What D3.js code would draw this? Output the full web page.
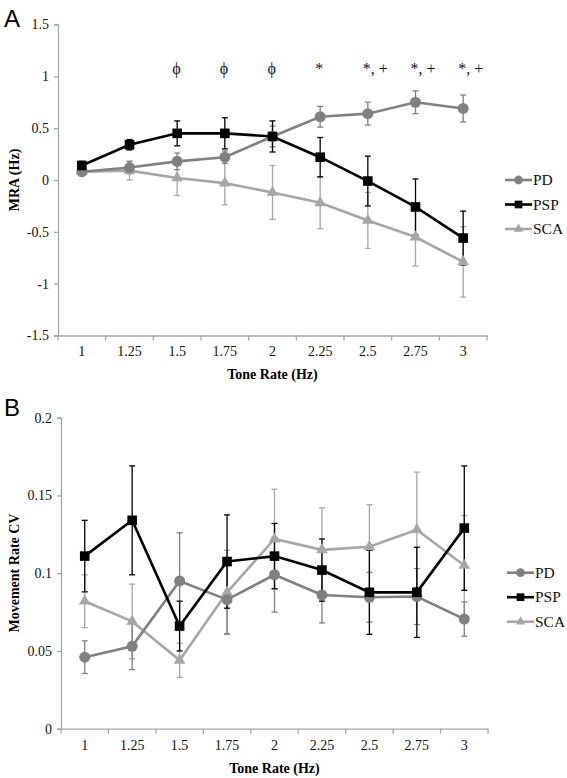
<!DOCTYPE html>
<html><head><meta charset="utf-8">
<script src="https://cdn.jsdelivr.net/npm/d3@7"></script>
<style>body{margin:0;background:#fff;} svg{display:block;} .serif{font-family:"Liberation Serif","DejaVu Serif",serif;} .sans{font-family:"Liberation Sans","DejaVu Sans",sans-serif;}</style>
</head><body>
<svg id="c" width="567" height="778"></svg>
<script>
const categories = ["1","1.25","1.5","1.75","2","2.25","2.5","2.75","3"];
const seriesNames = ["PD","PSP","SCA"];
// Panel A: MRA (Hz)
const mraPD  = [0.08, 0.12, 0.18, 0.22, 0.42, 0.61, 0.64, 0.75, 0.69];
const mraPSP = [0.14, 0.34, 0.45, 0.45, 0.42, 0.22, -0.01, -0.26, -0.56];
const mraSCA = [0.08, 0.09, 0.02, -0.03, -0.12, -0.22, -0.39, -0.55, -0.79];
const mraErrPD  = [0.03, 0.06, 0.08, 0.06, 0.10, 0.10, 0.11, 0.11, 0.13];
const mraErrPSP = [0.04, 0.05, 0.12, 0.15, 0.15, 0.19, 0.24, 0.27, 0.26];
const mraErrSCA = [0.04, 0.09, 0.17, 0.21, 0.26, 0.25, 0.27, 0.28, 0.34];
const sigLabels = ["", "", "ϕ", "ϕ", "ϕ", "*", "*, +", "*, +", "*, +"];
const mraTicks = [1.5, 1, 0.5, 0, -0.5, -1, -1.5];
// Panel B: Movement Rate CV
const cvPD  = [0.046, 0.053, 0.095, 0.083, 0.099, 0.086, 0.0845, 0.085, 0.0705];
const cvPSP = [0.111, 0.134, 0.066, 0.1075, 0.111, 0.102, 0.0877, 0.0877, 0.129];
const cvSCA = [0.082, 0.069, 0.044, 0.0877, 0.122, 0.115, 0.117, 0.128, 0.105];
const cvErrPD  = [0.0105, 0.015, 0.031, 0.022, 0.024, 0.018, 0.016, 0.018, 0.011];
const cvErrPSP = [0.023, 0.035, 0.016, 0.03, 0.021, 0.02, 0.027, 0.029, 0.04];
const cvErrSCA = [0.017, 0.024, 0.011, 0.027, 0.032, 0.027, 0.027, 0.037, 0.032];
const cvTicks = [0.2, 0.15, 0.1, 0.05, 0];

const colors = {PD:"#808080", PSP:"#000000", SCA:"#a6a6a6"};
const axisColor = "#a6a6a6";
const svg = d3.select("#c");

function panel(cfg){
  const g = svg.append("g");
  const x = d3.scaleBand().domain(categories).range([cfg.x0, cfg.x1]);
  const y = d3.scaleLinear().domain(cfg.ydom).range([cfg.yb, cfg.yt]);
  // y axis
  const ya = d3.axisLeft(y).tickValues(cfg.ticks).tickSize(4).tickPadding(5).tickFormat(d=>String(d));
  const yg = g.append("g").attr("transform",`translate(${cfg.x0},0)`).call(ya);
  yg.attr("font-family",null).attr("class","serif");
  yg.select(".domain").attr("stroke",axisColor).attr("stroke-width",1.3);
  yg.selectAll(".tick line").attr("stroke",axisColor).attr("stroke-width",1.3);
  yg.selectAll("text").attr("class","serif").attr("font-size",14).attr("fill","#111");
  // x axis
  const xa = d3.axisBottom(x).tickSize(0).tickPadding(11).tickSizeOuter(0);
  const xg = g.append("g").attr("transform",`translate(0,${cfg.yb})`).call(xa);
  xg.attr("font-family",null).attr("class","serif");
  xg.select(".domain").attr("stroke",axisColor).attr("stroke-width",1.3);
  xg.selectAll("text").attr("class","serif").attr("font-size",14).attr("fill","#111");
  const bounds = categories.map(c=>x(c)).concat([x.range()[1]]);
  g.selectAll(".bt").data(bounds).enter().append("line")
    .attr("x1",d=>d).attr("x2",d=>d).attr("y1",cfg.yb).attr("y2",cfg.yb+5)
    .attr("stroke",axisColor).attr("stroke-width",1.3);
  // titles
  g.append("text").attr("x",(cfg.x0+cfg.x1)/2).attr("y",cfg.yb+cfg.xtitleDy)
    .attr("text-anchor","middle").attr("class","serif").attr("font-weight","bold").attr("font-size",14)
    .text("Tone Rate (Hz)");
  g.append("text").attr("transform",`translate(${cfg.ytitleX},${cfg.ytitleY}) rotate(-90)`)
    .attr("text-anchor","middle").attr("class","serif").attr("font-weight","bold").attr("font-size",14)
    .text(cfg.ytitle);
  g.append("text").attr("x",4).attr("y",cfg.letterY).attr("class","sans")
    .attr("font-size",24).text(cfg.letter);
  const cx = c=>x(c)+x.bandwidth()/2;
  const order = ["SCA","PD","PSP"];
  // error bars
  order.forEach(s=>{
    const vals = cfg.data[s], errs = cfg.err[s];
    const eg = g.append("g").attr("stroke",colors[s]).attr("stroke-width",1.3);
    categories.forEach((c,i)=>{
      const xc = cx(c), y1 = y(vals[i]+errs[i]), y2 = y(vals[i]-errs[i]);
      eg.append("line").attr("x1",xc).attr("x2",xc).attr("y1",y1).attr("y2",y2);
      eg.append("line").attr("x1",xc-3).attr("x2",xc+3).attr("y1",y1).attr("y2",y1);
      eg.append("line").attr("x1",xc-3).attr("x2",xc+3).attr("y1",y2).attr("y2",y2);
    });
  });
  // lines and markers
  const line = d3.line().x((d,i)=>cx(categories[i])).y(d=>y(d));
  order.forEach(s=>{
    const vals = cfg.data[s];
    g.append("path").datum(vals).attr("d",line).attr("fill","none").attr("stroke",colors[s]).attr("stroke-width",2.6);
    drawMarkers(g, s, vals.map((v,i)=>[cx(categories[i]), y(v)]));
  });
  // legend
  const lg = g.append("g");
  seriesNames.forEach((s,i)=>{
    const ly = cfg.legY + i*24.5;
    lg.append("line").attr("x1",cfg.legX).attr("x2",cfg.legX+27).attr("y1",ly).attr("y2",ly)
      .attr("stroke",colors[s]).attr("stroke-width",2.6);
    drawMarkers(lg, s, [[cfg.legX+13.5, ly]], 0.8);
    lg.append("text").attr("x",cfg.legX+28).attr("y",ly+5).attr("class","serif").attr("font-size",15.5)
      .attr("fill","#111").text(s);
  });
  return {g,x,y,cx};
}
function drawMarkers(g, s, pts, k=1){
  pts.forEach(([px,py])=>{
    if(s==="PD") g.append("circle").attr("cx",px).attr("cy",py).attr("r",5.5*k).attr("fill",colors[s]);
    else if(s==="PSP") g.append("rect").attr("x",px-4.8*k).attr("y",py-4.8*k).attr("width",9.6*k).attr("height",9.6*k).attr("fill",colors[s]);
    else g.append("path").attr("d",d3.symbol().type(d3.symbolTriangle).size(60*k*k)()).attr("transform",`translate(${px},${py})`).attr("fill",colors[s]);
  });
}

const A = panel({x0:58, x1:487, yt:24.5, yb:335.5, ydom:[-1.5,1.5], ticks:mraTicks,
  data:{PD:mraPD, PSP:mraPSP, SCA:mraSCA}, err:{PD:mraErrPD, PSP:mraErrPSP, SCA:mraErrSCA},
  xtitleDy:43, ytitle:"MRA (Hz)", ytitleX:19, ytitleY:180, letter:"A", letterY:27,
  legX:505, legY:180});
A.g.selectAll(".sig").data(sigLabels).enter().append("text")
  .attr("x",(d,i)=>A.cx(categories[i]) - 5).attr("y",74)
  .attr("class","serif").attr("font-size",16).attr("fill","#111")
  .text(d=>d);

const B = panel({x0:61, x1:488, yt:417.7, yb:728.7, ydom:[0,0.2], ticks:cvTicks,
  data:{PD:cvPD, PSP:cvPSP, SCA:cvSCA}, err:{PD:cvErrPD, PSP:cvErrPSP, SCA:cvErrSCA},
  xtitleDy:44, ytitle:"Movement Rate CV", ytitleX:19, ytitleY:573, letter:"B", letterY:416,
  legX:507, legY:572.7});
</script>
</body></html>
